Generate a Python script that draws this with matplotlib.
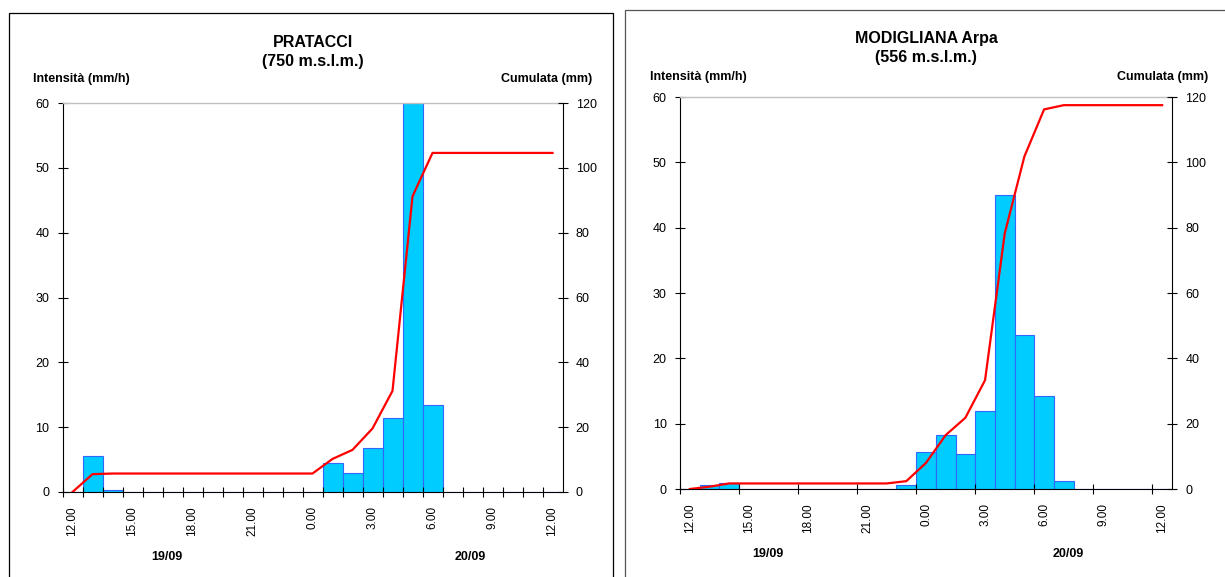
import numpy as np
import matplotlib
matplotlib.use('Agg')
import matplotlib.pyplot as plt
from matplotlib.patches import Rectangle

plt.rcParams['font.family'] = ['Liberation Sans', 'DejaVu Sans']

W, H = 1225, 577

hour_labels = ['12.00', '15.00', '18.00', '21.00', '0.00', '3.00', '6.00', '9.00', '12.00']
day_labels = ['19/09', '20/09']

pratacci_int = [0, 5.5, 0.26, 0, 0, 0, 0, 0, 0, 0, 0, 0, 0,
                4.4, 2.9, 6.8, 11.4, 60.0, 13.4, 0, 0, 0, 0, 0, 0]
pratacci_cum = [0, 5.5, 5.7, 5.7, 5.7, 5.7, 5.7, 5.7, 5.7, 5.7, 5.7, 5.7, 5.7,
                10.2, 13.0, 19.6, 31.2, 91.2, 104.6, 104.6, 104.6, 104.6, 104.6, 104.6, 104.6]

modigliana_int = [0, 0.6, 0.9, 0, 0, 0, 0, 0, 0, 0, 0, 0.6, 5.6,
                  8.3, 5.3, 11.9, 45.0, 23.6, 14.3, 1.3, 0, 0, 0, 0, 0]
modigliana_cum = [0, 0.7, 1.7, 1.7, 1.7, 1.7, 1.7, 1.7, 1.7, 1.7, 1.7, 2.4, 8.0,
                  16.5, 21.8, 33.3, 78.2, 101.8, 116.2, 117.5, 117.5, 117.5, 117.5, 117.5, 117.5]


def fx(px):
    return px / W


def fy(py):
    return 1 - py / H


def draw_chart(fig, rect, title, intens, cum, tick_step, frame, title_y, axtitle_y,
               left_lbl_x, right_lbl_x, day_pos):
    x0, top, x1, bottom = rect
    ax = fig.add_axes([fx(x0), fy(bottom), fx(x1 - x0), fy(top) - fy(bottom)])
    n = len(intens)
    x = np.arange(n)
    ax.bar(x, intens, width=1.0, color='#00CCFF', edgecolor='#3366FF', linewidth=0.8)
    ax.set_xlim(-0.5, n - 0.5)
    ax.set_ylim(0, 60)
    ax.set_yticks(range(0, 61, 10))
    # tick marks on category boundaries, labels every 3 hours
    ax.set_xticks(np.arange(-0.5, n - 0.5, tick_step))
    ax.set_xticklabels([])
    ax.set_xticks(np.arange(0, n, 3), hour_labels, minor=True)
    ax.tick_params(axis='x', which='major', direction='inout', length=7, width=0.8)
    ax.tick_params(axis='x', which='minor', length=0, pad=10, labelsize=8.5, labelrotation=90)
    ax.tick_params(axis='y', direction='inout', length=7, width=0.8, pad=6, labelsize=9)
    for s in ['left', 'bottom']:
        ax.spines[s].set_linewidth(0.8)
    ax.spines['right'].set_visible(False)
    ax.spines['top'].set_color('#C0C0C0')
    ax.spines['top'].set_linewidth(1.0)

    ax2 = ax.twinx()
    ax2.plot(x, cum, color='#FF0000', linewidth=1.6)
    ax2.set_ylim(0, 120)
    ax2.set_yticks(range(0, 121, 20))
    ax2.tick_params(axis='y', direction='inout', length=7, width=0.8, pad=6, labelsize=9)
    ax2.spines['right'].set_linewidth(0.8)
    for s in ['left', 'top', 'bottom']:
        ax2.spines[s].set_visible(False)

    cx = (x0 + x1) / 2
    fig.text(fx(cx), fy(title_y), title, ha='center', va='center', fontsize=11.5,
             fontweight='bold', linespacing=1.3)
    fig.text(fx(left_lbl_x), fy(axtitle_y), 'Intensità (mm/h)', ha='left', va='center',
             fontsize=9, fontweight='bold')
    fig.text(fx(right_lbl_x), fy(axtitle_y), 'Cumulata (mm)', ha='right', va='center',
             fontsize=9, fontweight='bold')
    for lbl, (px, py) in zip(day_labels, day_pos):
        fig.text(fx(px), fy(py), lbl, ha='center', va='center', fontsize=9, fontweight='bold')

    fx0, fy0, fx1, fy1, col = frame
    fig.add_artist(Rectangle((fx(fx0), fy(fy1)), fx(fx1 - fx0), fy(fy0) - fy(fy1),
                             transform=fig.transFigure, fill=False, edgecolor=col, linewidth=0.9))
    return ax


fig = plt.figure(figsize=(W / 100, H / 100), dpi=100)

draw_chart(fig, (62.5, 103, 562.5, 492), 'PRATACCI\n(750 m.s.l.m.)', pratacci_int, pratacci_cum,
           1, (9, 13, 613, 590, '#000000'), 52, 79, 33, 592, [(167, 557), (470, 557)])
draw_chart(fig, (680, 97, 1172, 489), 'MODIGLIANA Arpa\n(556 m.s.l.m.)', modigliana_int, modigliana_cum,
           3, (625, 10, 1240, 590, '#555555'), 48, 77, 650, 1208, [(768, 554), (1068, 554)])

fig.savefig('out.png', dpi=100)
